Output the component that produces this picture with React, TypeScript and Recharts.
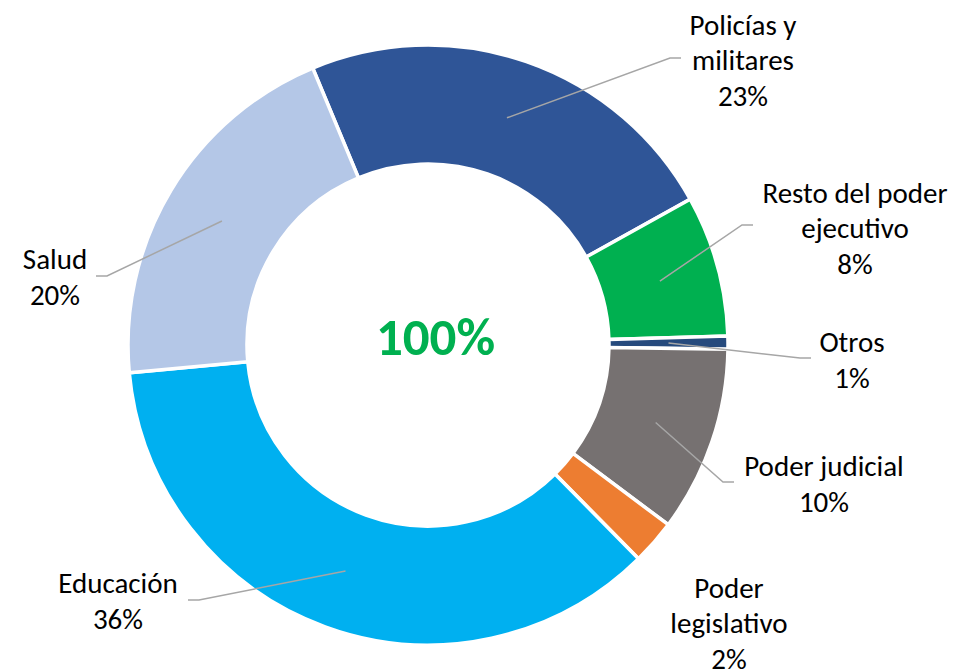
import { Cell, Pie, PieChart } from "recharts";

// shares of public employment by sector (%)
const categories = [
  "Policías y militares",
  "Resto del poder ejecutivo",
  "Otros",
  "Poder judicial",
  "Poder legislativo",
  "Educación",
  "Salud",
];
const shares = [23.2, 7.6, 0.7, 10.0, 2.4, 35.9, 20.2];
const labelLines = [
  ["Policías y", "militares"],
  ["Resto del poder", "ejecutivo"],
  ["Otros"],
  ["Poder judicial"],
  ["Poder", "legislativo"],
  ["Educación"],
  ["Salud"],
];
const centerText = "100%";

const COLORS = ["#2F5597", "#00B050", "#264A7D", "#767171", "#ED7D31", "#00B0F0", "#B4C7E7"];

// where each callout sits, relative to the donut centre (knee = bend of the leader line)
const PLACEMENT: { knee?: [number, number]; text: [number, number] }[] = [
  { knee: [242, -287], text: [315, -285] },
  { knee: [314, -120], text: [427, -117] },
  { knee: [372, 13], text: [424, 15] },
  { knee: [295, 137], text: [396, 139] },
  { text: [301, 278] },
  { knee: [-229, 255], text: [-310, 256] },
  { knee: [-321, -69], text: [-373, -68] },
];

const W = 954;
const H = 672;
const CX = 428;
const CY = 345;
const FONT = "Carlito, Calibri, Lato, sans-serif";
const LINE_H = 35.5;

const data = categories.map((name, i) => ({ name, value: shares[i] }));

function renderLabel(props: any) {
  const { cx, cy, midAngle, innerRadius, outerRadius, percent, index } = props;
  const RAD = Math.PI / 180;
  const r = (innerRadius + outerRadius) / 2;
  const sx = cx + r * Math.cos(-midAngle * RAD);
  const sy = cy + r * Math.sin(-midAngle * RAD);
  const place = PLACEMENT[index];
  const lines = [...labelLines[index], `${Math.round(percent * 100)}%`];
  const tx = cx + place.text[0];
  const ty = cy + place.text[1] - ((lines.length - 1) * LINE_H) / 2;
  let leader = null;
  if (place.knee) {
    const kx = cx + place.knee[0];
    const ky = cy + place.knee[1];
    const ex = kx + (place.text[0] > place.knee[0] ? 11 : -11);
    leader = (
      <polyline
        points={`${sx},${sy} ${kx},${ky} ${ex},${ky}`}
        fill="none"
        stroke="#A6A6A6"
        strokeWidth={1.5}
      />
    );
  }
  return (
    <g key={`lbl-${index}`}>
      {leader}
      <text
        x={tx}
        y={ty}
        textAnchor="middle"
        dominantBaseline="central"
        fontFamily={FONT}
        fontSize={29}
        fill="#000"
      >
        {lines.map((l, i) => (
          <tspan key={i} x={tx} y={ty + i * LINE_H}>
            {l}
          </tspan>
        ))}
      </text>
    </g>
  );
}

export default function App() {
  return (
    <div style={{ position: "absolute", left: 0, top: 0, width: W, height: H, background: "#fff" }}>
      <PieChart width={W} height={H} margin={{ top: 0, right: 0, bottom: 0, left: 0 }}>
        <Pie
          data={data}
          dataKey="value"
          nameKey="name"
          cx={CX}
          cy={CY}
          innerRadius={181}
          outerRadius={300}
          startAngle={112.6}
          endAngle={-247.4}
          stroke="#FFFFFF"
          strokeWidth={3.5}
          label={renderLabel}
          labelLine={false}
          isAnimationActive={false}
        >
          {data.map((d, i) => (
            <Cell key={d.name} fill={COLORS[i]} />
          ))}
        </Pie>
      </PieChart>
      <svg
        width={W}
        height={H}
        style={{ position: "absolute", left: 0, top: 0, pointerEvents: "none" }}
      >
        <text
          x={CX + 7.5}
          y={CY + 9.5}
          textAnchor="middle"
          fontFamily={FONT}
          fontWeight={700}
          fontSize={53}
          fill="#00B050"
        >
          {centerText}
        </text>
      </svg>
    </div>
  );
}
